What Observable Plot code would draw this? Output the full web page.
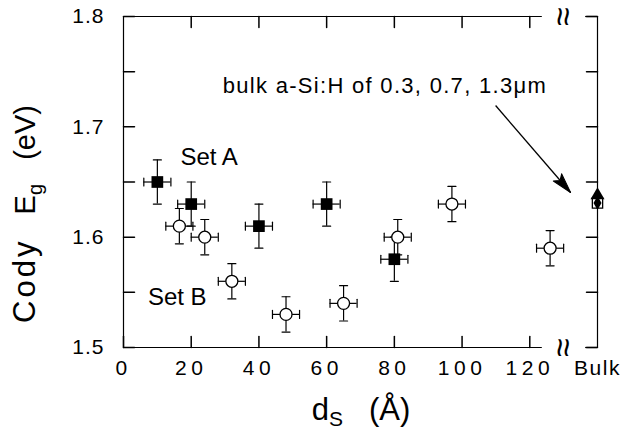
<!DOCTYPE html>
<html><head><meta charset="utf-8">
<script src="https://cdn.jsdelivr.net/npm/d3@7"></script>
<script src="https://cdn.jsdelivr.net/npm/@observablehq/plot@0.6"></script>
<style>body{margin:0;background:#fff}svg{display:block}</style>
</head><body><div id="chart"></div>
<script>
// ---- data ----
const setA_ds = [10, 20, 40, 60, 80];
const setA_eg = [1.65, 1.63, 1.61, 1.63, 1.58];
const setB_ds = [16.5, 24, 32, 48, 65, 81, 97, 126];
const setB_eg = [1.61, 1.60, 1.56, 1.53, 1.54, 1.60, 1.63, 1.59];
const errDs = 4;
const errA = 0.02;
const errB = 0.016;
const bulkPos = 140;
const bulkTriangle = [1.638];
const bulkSquare = [1.631];
const bulkDiamond = [1.631];
const xTickValues = [0, 20, 40, 60, 80, 100, 120];
const xTopTicks = [20, 40, 60, 80, 100, 120];
const yTickValues = [1.5, 1.6, 1.7, 1.8];
const yMinorTicks = [1.5, 1.55, 1.6, 1.65, 1.7, 1.75, 1.8];
const breakStart = 123.7, breakEnd = 136.5, breakMid = 129.8;
const labels = [
  {x: 16.8, y: 1.672, text: "Set A"},
  {x: 7.2, y: 1.5456, text: "Set B"}
];
const annotation = [{x: 29.3, y: 1.7366, text: "bulk a-Si:H of 0.3, 0.7, 1.3\u03bcm"}];
const arrow = [{x1: 109.9, y1: 1.7193, x2: 132.05, y2: 1.6405}];

const A = setA_ds.map((d, i) => ({ds: d, eg: setA_eg[i], e: errA}));
const B = setB_ds.map((d, i) => ({ds: d, eg: setB_eg[i], e: errB}));
const all = A.concat(B);
const frameSegs = [
  {y: 1.5, x1: 0, x2: breakStart}, {y: 1.5, x1: breakEnd, x2: bulkPos},
  {y: 1.8, x1: 0, x2: breakStart}, {y: 1.8, x1: breakEnd, x2: bulkPos}
];

const tickShape = {draw(c, l) { c.moveTo(0, 0); c.lineTo(0, -l); }};
const headShape = {draw(c, l) { c.moveTo(0, -l); c.lineTo(-5.5, 0); c.lineTo(0, -4); c.lineTo(5.5, 0); c.closePath(); }};
const font = "Liberation Sans, Arial, Helvetica, sans-serif";

const plot = Plot.plot({
  width: 633, height: 429,
  marginLeft: 123, marginRight: 36, marginTop: 16, marginBottom: 82,
  x: {domain: [0, bulkPos], label: null, axis: null},
  y: {domain: [1.5, 1.8], label: null, axis: null},
  style: {fontFamily: font, fontSize: "21px", color: "black", background: "white"},
  marks: [
    // frame
    Plot.ruleX([0, bulkPos], {y1: 1.5, y2: 1.8, stroke: "black", strokeWidth: 1.2}),
    Plot.ruleY(frameSegs, {y: "y", x1: "x1", x2: "x2", stroke: "black", strokeWidth: 1.2}),
    // inward ticks
    Plot.vector(yMinorTicks, {x: 0, y: d => d, length: 11, rotate: 90, anchor: "start", shape: tickShape, stroke: "black"}),
    Plot.vector(yMinorTicks, {x: bulkPos, y: d => d, length: 11, rotate: -90, anchor: "start", shape: tickShape, stroke: "black"}),
    Plot.vector(xTickValues, {x: d => d, y: 1.5, length: 11, rotate: 0, anchor: "start", shape: tickShape, stroke: "black"}),
    Plot.vector(xTopTicks, {x: d => d, y: 1.8, length: 11, rotate: 180, anchor: "start", shape: tickShape, stroke: "black"}),
    // break symbols
    Plot.text([1.5, 1.8], {x: breakMid, y: d => d, text: () => "\u2248", rotate: 90, fontSize: 34, fill: "black"}),
    // axis labels
    Plot.axisX(xTickValues, {tickSize: 0, tickPadding: 13, fontSize: 21}),
    Plot.axisX([bulkPos], {tickSize: 0, tickPadding: 13, fontSize: 21, tickFormat: () => "Bulk"}),
    Plot.axisY(yTickValues, {tickSize: 0, tickPadding: 19, fontSize: 21, tickFormat: d3.format(".1f")}),
    // error bars
    Plot.ruleX(all, {x: "ds", y1: d => d.eg - d.e, y2: d => d.eg + d.e, stroke: "black", strokeWidth: 1.2}),
    Plot.ruleY(all, {y: "eg", x1: d => d.ds - errDs, x2: d => d.ds + errDs, stroke: "black", strokeWidth: 1.2}),
    Plot.vector(all, {x: "ds", y: d => d.eg + d.e, length: 8, rotate: 90, anchor: "middle", shape: tickShape, stroke: "black", strokeWidth: 1.2}),
    Plot.vector(all, {x: "ds", y: d => d.eg - d.e, length: 8, rotate: 90, anchor: "middle", shape: tickShape, stroke: "black", strokeWidth: 1.2}),
    Plot.vector(all, {x: d => d.ds - errDs, y: "eg", length: 8, rotate: 0, anchor: "middle", shape: tickShape, stroke: "black", strokeWidth: 1.2}),
    Plot.vector(all, {x: d => d.ds + errDs, y: "eg", length: 8, rotate: 0, anchor: "middle", shape: tickShape, stroke: "black", strokeWidth: 1.2}),
    // markers
    Plot.dot(A, {x: "ds", y: "eg", symbol: "square", r: 6.6, fill: "black"}),
    Plot.dot(B, {x: "ds", y: "eg", symbol: "circle", r: 6, fill: "white", stroke: "black", strokeWidth: 1.3}),
    // bulk markers
    Plot.dot(bulkSquare, {x: bulkPos, y: d => d, symbol: "square", r: 5.8, fill: "white", stroke: "black", strokeWidth: 1.3}),
    Plot.dot(bulkDiamond, {x: bulkPos, y: d => d, symbol: "diamond", r: 4.2, fill: "black"}),
    Plot.dot(bulkTriangle, {x: bulkPos, y: d => d, symbol: "triangle", r: 5.2, fill: "black"}),
    // annotations
    Plot.text(labels, {x: "x", y: "y", text: "text", textAnchor: "start", fontSize: 24, fill: "black"}),
    Plot.text(annotation, {x: "x", y: "y", text: "text", textAnchor: "start", fontSize: 22, fill: "black"}),
    Plot.link(arrow, {x1: "x1", y1: "y1", x2: "x2", y2: "y2", stroke: "black", strokeWidth: 1.3}),
    Plot.vector(arrow, {x: "x2", y: "y2", length: 20, rotate: 139, anchor: "end", shape: headShape, fill: "black", stroke: "black", strokeWidth: 1})
  ]
});

const s = d3.select(plot);
const xl = s.selectAll('g[aria-label="x-axis tick label"]').nodes();
if (xl[0]) d3.select(xl[0]).attr("letter-spacing", "4.5px");
if (xl[1]) d3.select(xl[1]).attr("letter-spacing", "1.5px");
s.selectAll('g[aria-label="y-axis tick label"]').attr("letter-spacing", "1px");
s.selectAll("text").filter(function() { return this.textContent.startsWith("bulk"); })
  .attr("letter-spacing", "1.3px");

// axis titles with subscripts
const xt = s.append("text")
  .attr("x", 361).attr("y", 420)
  .attr("text-anchor", "middle")
  .attr("font-family", font).attr("font-size", 31)
  .style("white-space", "pre").attr("fill", "black");
xt.append("tspan").text("d");
xt.append("tspan").attr("font-size", 21).attr("dy", 6).text("S");
xt.append("tspan").attr("dy", -6).text("   (\u00c5)");

const yt = s.append("text")
  .attr("transform", "translate(35,214) rotate(-90)")
  .attr("text-anchor", "middle")
  .attr("font-family", font).attr("font-size", 29)
  .style("white-space", "pre").attr("fill", "black");
yt.append("tspan").attr("font-size", 31).attr("letter-spacing", "3px").text("Cody");
yt.append("tspan").text("   E");
yt.append("tspan").attr("font-size", 20).attr("dy", 7).text("g");
yt.append("tspan").attr("dy", -7).text("   (eV)");

document.getElementById("chart").appendChild(plot);
</script>
</body></html>
